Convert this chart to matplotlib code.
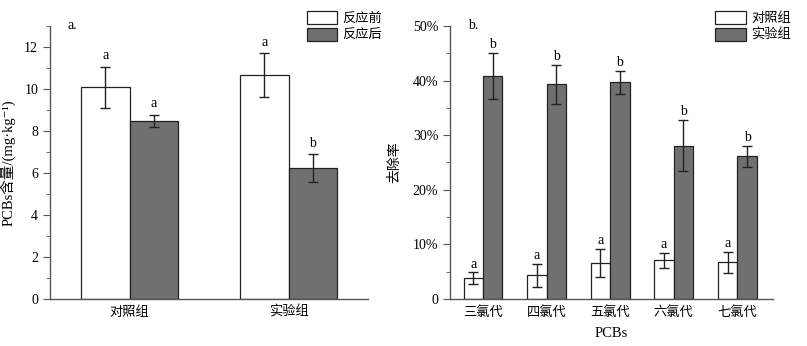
import matplotlib
matplotlib.use('Agg')
import matplotlib.pyplot as plt
from matplotlib.ticker import MultipleLocator, FuncFormatter
import numpy as np

plt.rcParams['font.family'] = ['Liberation Serif', 'Noto Sans CJK SC', 'DejaVu Sans']
plt.rcParams['font.size'] = 10

# --- data, panel a ---
groups_a = ['对照组', '实验组']
before = [10.08, 10.65]
before_err = [0.98, 1.05]
after = [8.48, 6.23]
after_err = [0.30, 0.68]
before_lbl = ['a', 'a']
after_lbl = ['a', 'b']

# --- data, panel b ---
groups_b = ['三氯代', '四氯代', '五氯代', '六氯代', '七氯代']
ctrl = [3.8, 4.3, 6.6, 7.1, 6.7]
ctrl_err = [1.1, 2.1, 2.6, 1.4, 1.9]
expt = [40.9, 39.3, 39.7, 28.1, 26.1]
expt_err = [4.2, 3.6, 2.1, 4.7, 2.0]
ctrl_lbl = ['a'] * 5
expt_lbl = ['b'] * 5

GRAY = '#707070'
AXC = '#555555'

fig = plt.figure(figsize=(8.07, 3.46), dpi=100)
ax1 = fig.add_axes([0.062, 0.136, 0.394, 0.789])
ax2 = fig.add_axes([0.5576, 0.136, 0.4002, 0.789])

def style_axes(ax):
    for s in ['top', 'right']:
        ax.spines[s].set_visible(False)
    for s in ['left', 'bottom']:
        ax.spines[s].set_color(AXC)
        ax.spines[s].set_linewidth(1.0)
    ax.tick_params(axis='y', which='major', length=5, color=AXC, direction='out')
    ax.tick_params(axis='y', which='minor', length=3, color=AXC, direction='out')
    ax.tick_params(axis='x', length=0, pad=5)

ekw = dict(ecolor='#222222', elinewidth=1, capsize=3.5, capthick=1)
legkw = dict(loc='upper right', frameon=False, fontsize=9.5, handlelength=2.3, handleheight=1.1,
             handletextpad=0.4, labelspacing=0.25, borderaxespad=0, borderpad=0)

# panel a
w = 0.305
x = np.arange(len(groups_a))
ax1.bar(x - w / 2, before, w, color='white', edgecolor='#222222', linewidth=0.9,
        yerr=before_err, error_kw=ekw, label='反应前')
ax1.bar(x + w / 2, after, w, color=GRAY, edgecolor='#222222', linewidth=0.9,
        yerr=after_err, error_kw=ekw, label='反应后')
for i in range(len(x)):
    ax1.text(x[i] - w / 2, before[i] + before_err[i] + 0.2, before_lbl[i], ha='center', va='bottom', fontsize=10)
    ax1.text(x[i] + w / 2, after[i] + after_err[i] + 0.2, after_lbl[i], ha='center', va='bottom', fontsize=10)
ax1.set_xlim(-0.5, 1.5)
ax1.set_ylim(0, 13)
ax1.yaxis.set_major_locator(MultipleLocator(2))
ax1.yaxis.set_minor_locator(MultipleLocator(1))
ax1.set_xticks(x)
ax1.set_xticklabels(groups_a, fontsize=9.5)
ax1.set_ylabel('PCBs含量/(mg·kg⁻¹)', fontsize=10.5, labelpad=6)
style_axes(ax1)
ax1.text(0.055, 1.0, 'a.', transform=ax1.transAxes, fontsize=10, va='center')
ax1.legend(bbox_to_anchor=(1.045, 1.055), **legkw)

# panel b
wb = 0.305
xb = np.arange(len(groups_b))
ax2.bar(xb - wb / 2, ctrl, wb, color='white', edgecolor='#222222', linewidth=0.9,
        yerr=ctrl_err, error_kw=ekw, label='对照组')
ax2.bar(xb + wb / 2, expt, wb, color=GRAY, edgecolor='#222222', linewidth=0.9,
        yerr=expt_err, error_kw=ekw, label='实验组')
for i in range(len(xb)):
    ax2.text(xb[i] - wb / 2, ctrl[i] + ctrl_err[i] + 0.3, ctrl_lbl[i], ha='center', va='bottom', fontsize=10)
    ax2.text(xb[i] + wb / 2, expt[i] + expt_err[i] + 0.3, expt_lbl[i], ha='center', va='bottom', fontsize=10)
ax2.set_xlim(-0.52, 4.56)
ax2.set_ylim(0, 50)
ax2.yaxis.set_major_locator(MultipleLocator(10))
ax2.yaxis.set_minor_locator(MultipleLocator(5))
ax2.yaxis.set_major_formatter(FuncFormatter(lambda v, p: '0' if v == 0 else f'{v:.0f}%'))
ax2.set_xticks(xb)
ax2.set_xticklabels(groups_b, fontsize=9.5)
ax2.set_xlabel('PCBs', fontsize=10.5, labelpad=6)
ax2.set_ylabel('去除率', fontsize=10, labelpad=8)
style_axes(ax2)
ax2.text(0.055, 1.0, 'b.', transform=ax2.transAxes, fontsize=10, va='center')
ax2.legend(bbox_to_anchor=(1.055, 1.055), **legkw)

fig.savefig('out.png', dpi=100)
